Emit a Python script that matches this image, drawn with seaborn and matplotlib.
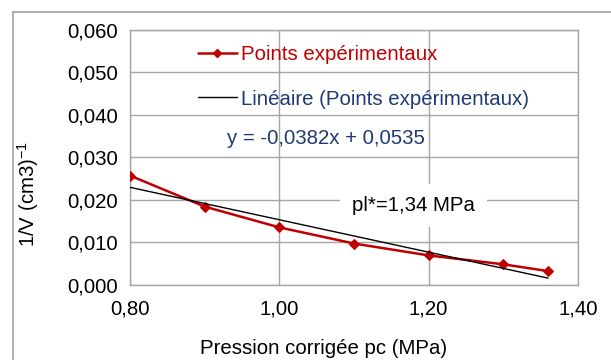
import numpy as np
import pandas as pd
import matplotlib
matplotlib.use("Agg")
import matplotlib.pyplot as plt
from matplotlib.ticker import FuncFormatter, MultipleLocator
from matplotlib.lines import Line2D
import seaborn as sns

# ---- data ----
pression = [0.80, 0.90, 1.00, 1.10, 1.20, 1.30, 1.36]
inv_volume = [0.0257, 0.0184, 0.0135, 0.0097, 0.0069, 0.0048, 0.0032]
fit_slope = -0.0382
fit_intercept = 0.0535
series_label = "Points expérimentaux"
fit_label = "Linéaire (Points expérimentaux)"
equation_text = "y = -0,0382x + 0,0535"
annot_text = "pl*=1,34 MPa"
annot_pos = (1.18, 0.0187)
x_label = "Pression corrigée pc (MPa)"
y_label = "1/V (cm3)$^{-1}$"

sns.set_style("white")
plt.rcParams['font.family'] = ['Liberation Sans', 'DejaVu Sans']
plt.rcParams['mathtext.fontset'] = 'custom'
plt.rcParams['mathtext.rm'] = 'Liberation Sans'
plt.rcParams['mathtext.it'] = 'Liberation Sans'
plt.rcParams['axes.unicode_minus'] = False

FS = 14.7
RED = "#C00000"
BLUE = "#1F3A73"
GRID = "#A6A6A6"

fig = plt.figure(figsize=(6.11, 3.60), dpi=100)
W, H = 611, 360
left, right, top, bottom = 130, 578, 30, 284.7
ax = fig.add_axes([left / W, 1 - bottom / H, (right - left) / W, (bottom - top) / H])

df = pd.DataFrame({"x": pression, "y": inv_volume})
sns.lineplot(data=df, x="x", y="y", ax=ax, color=RED, lw=1.8, marker="D",
             markersize=5.5, markeredgecolor=RED, zorder=3)

xf = np.array([min(pression), max(pression)])
fit_df = pd.DataFrame({"x": xf, "y": fit_slope * xf + fit_intercept})
sns.lineplot(data=fit_df, x="x", y="y", ax=ax, color="black", lw=1.0, zorder=4)

ax.set_xlim(0.8, 1.4)
ax.set_ylim(0, 0.06)
ax.xaxis.set_major_locator(MultipleLocator(0.2))
ax.yaxis.set_major_locator(MultipleLocator(0.01))
ax.xaxis.set_major_formatter(FuncFormatter(lambda v, p: f"{v:.2f}".replace(".", ",")))
ax.yaxis.set_major_formatter(FuncFormatter(lambda v, p: f"{v:.3f}".replace(".", ",")))
ax.grid(True, color=GRID, lw=1.0)
ax.set_axisbelow(True)
for s in ax.spines.values():
    s.set_color(GRID)
    s.set_linewidth(1.0)
ax.tick_params(axis="both", which="major", direction="out", length=5, width=1,
               color=GRID, labelsize=FS, labelcolor="black", pad=4)
ax.tick_params(axis="x", pad=6)

ax.set_xlabel(x_label, fontsize=FS, color="black")
ax.set_ylabel(y_label, fontsize=FS, color="black")
ax.xaxis.set_label_coords((324 - left) / (right - left), -(348 - bottom) / (bottom - top))
ax.yaxis.set_label_coords((28 - left) / (right - left), 1 - (193.5 - top) / (bottom - top))
ax.xaxis.label.set_verticalalignment("center")
ax.yaxis.label.set_verticalalignment("center")

handles = [Line2D([], [], color=RED, lw=1.8, marker="D", markersize=4.5),
           Line2D([], [], color="black", lw=1.0)]
leg = ax.legend(handles, [series_label, fit_label], loc="upper left",
                bbox_to_anchor=((198 - left) / (right - left), 1 - (45 - top) / (bottom - top)),
                borderaxespad=0, borderpad=0, frameon=False, fontsize=FS,
                handlelength=1.9, handletextpad=0.2, labelspacing=1.25)
for t, c in zip(leg.get_texts(), [RED, BLUE]):
    t.set_color(c)

ax.text((227 - left) / (right - left), 1 - (139 - top) / (bottom - top), equation_text,
        transform=ax.transAxes, fontsize=FS, color=BLUE, ha="left", va="center")

ax.text(annot_pos[0], annot_pos[1], annot_text, fontsize=FS, color="black",
        ha="center", va="center", zorder=2.5,
        bbox=dict(boxstyle="square,pad=0.6", facecolor="white", edgecolor="none"))

# outer chart border
fig.add_artist(Line2D([13 / W, 13 / W], [0, 1 - 12 / H], transform=fig.transFigure,
                      color="#A0A0A0", lw=1.2))
fig.add_artist(Line2D([13 / W, 1], [1 - 12 / H, 1 - 12 / H], transform=fig.transFigure,
                      color="#A0A0A0", lw=1.2))

fig.savefig("out.png", dpi=100, facecolor="white")
